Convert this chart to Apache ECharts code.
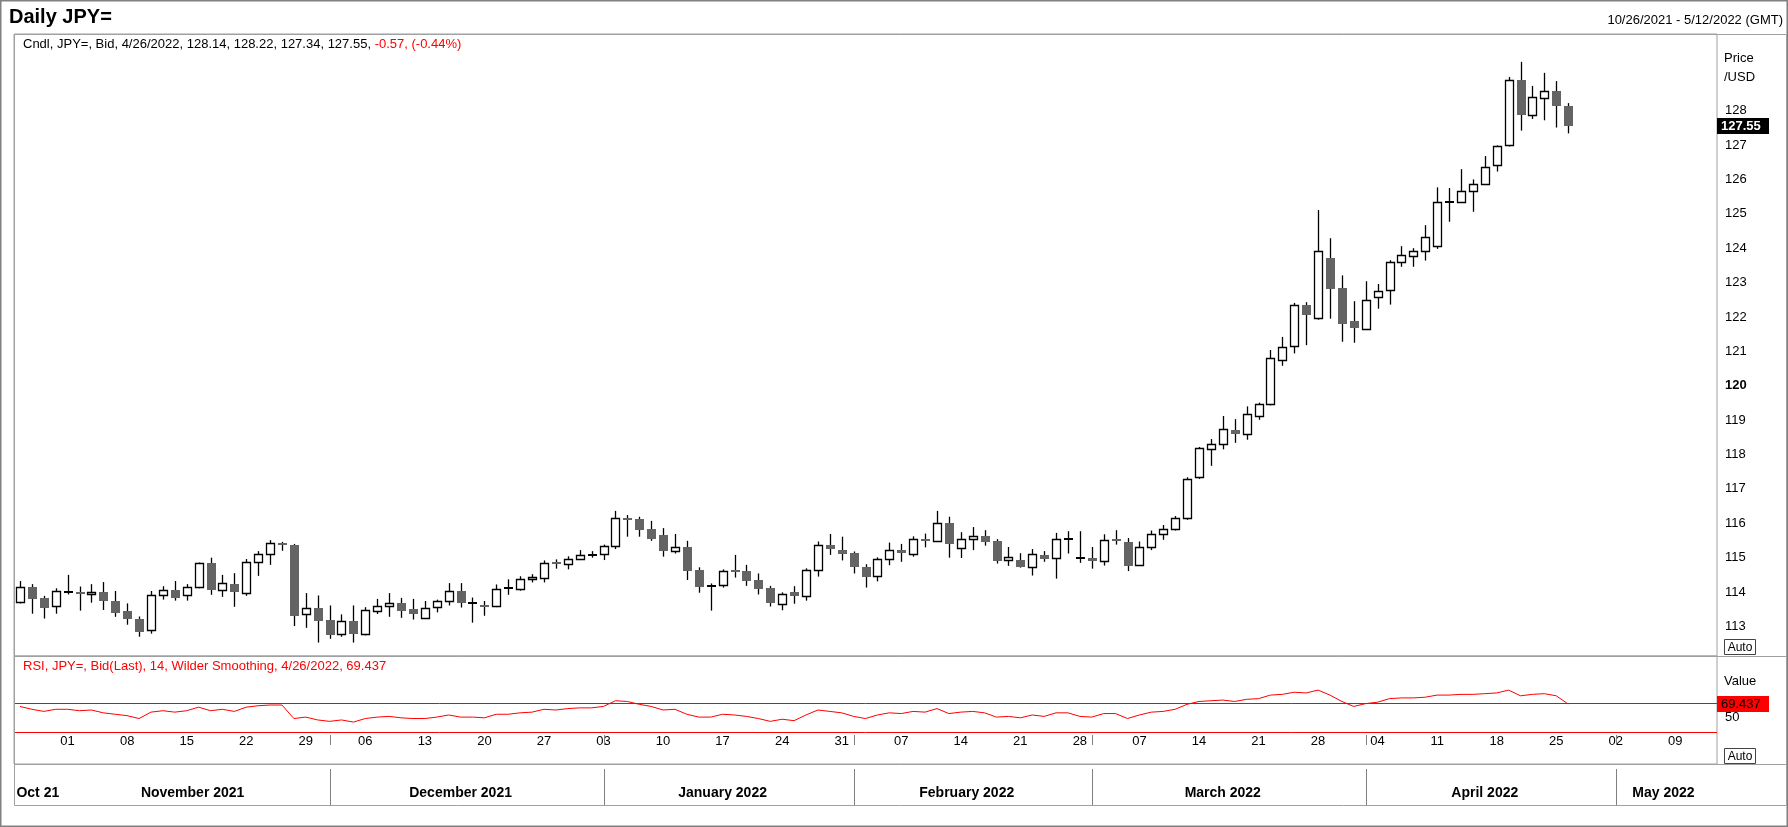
<!DOCTYPE html>
<html>
<head>
<meta charset="utf-8">
<title>Daily JPY=</title>
<script src="https://cdn.jsdelivr.net/npm/echarts@6/dist/echarts.min.js"></script>
<style>
  html, body { margin: 0; padding: 0; background: #fff; }
  #chart { width: 1788px; height: 827px; }
</style>
</head>
<body>
<div id="chart"></div>
<script>
// daily bars, Oct 26 2021 .. Apr 26 2022 (weekdays)
var opens = [
  113.70, 114.15, 113.83, 113.58,
  114.00, 114.00, 113.94, 114.00, 113.74, 113.45, 113.22, 112.89, 113.90, 114.06, 113.90, 114.13, 114.85, 114.05, 114.23,
  113.96, 114.88, 115.10, 115.43, 115.38, 113.35, 113.53,
  113.19, 112.76, 113.15, 112.76, 113.44, 113.58, 113.67, 113.51, 113.26, 113.55, 113.73, 114.03, 113.67, 113.61, 113.58,
  114.11, 114.08, 114.37, 114.39, 114.87, 114.80, 114.95, 115.09,
  115.10, 115.33, 116.14, 116.12, 115.83, 115.66, 115.17, 115.31, 114.64, 114.18, 114.19, 114.65, 114.61, 114.35, 114.12,
  113.64, 114.00, 113.87, 114.63, 115.36, 115.21,
  115.13, 114.73, 114.46, 114.95, 115.22, 115.10, 115.53, 115.49, 116.00, 115.27, 115.53, 115.63, 115.48, 114.92, 114.93,
  114.72, 115.08, 114.98, 115.55, 115.00,
  114.98, 114.89, 115.53, 115.45, 114.77, 115.30, 115.68, 115.82, 116.14, 117.33, 118.15, 118.30, 118.70, 118.58, 119.11,
  119.46, 120.77, 121.14, 122.34, 121.96, 123.71, 122.83, 121.87,
  121.64, 122.60, 122.77, 123.59, 123.76, 123.91, 124.05, 125.33, 125.33, 125.65, 125.86, 126.41, 126.99, 128.88, 127.86,
  128.36, 128.56, 128.14
];
var highs = [
  114.32, 114.23, 113.89, 114.11,
  114.50, 114.16, 114.23, 114.29, 114.03, 113.67, 113.29, 114.03, 114.17, 114.32, 114.23, 114.86, 115.00, 114.50, 114.55,
  114.96, 115.19, 115.51, 115.46, 115.40, 113.97, 113.90,
  113.61, 113.35, 113.61, 113.56, 113.80, 113.97, 113.83, 113.80, 113.74, 113.78, 114.26, 114.26, 113.84, 113.74, 114.22,
  114.37, 114.46, 114.52, 114.92, 114.95, 115.04, 115.22, 115.19,
  115.38, 116.36, 116.24, 116.19, 116.07, 115.86, 115.69, 115.49, 114.72, 114.25, 114.66, 115.08, 114.79, 114.54, 114.18,
  113.99, 114.17, 114.69, 115.47, 115.69, 115.61,
  115.18, 114.81, 115.01, 115.44, 115.40, 115.62, 115.70, 116.36, 116.19, 115.74, 115.89, 115.80, 115.54, 115.31, 115.13,
  115.25, 115.19, 115.72, 115.77, 115.77,
  115.31, 115.68, 115.80, 115.57, 115.47, 115.79, 115.95, 116.21, 117.34, 118.22, 118.45, 119.12, 119.03, 119.40, 119.51,
  121.04, 121.42, 122.41, 122.43, 125.11, 124.29, 123.21, 122.46,
  123.04, 122.96, 123.65, 124.06, 124.00, 124.67, 125.77, 125.75, 126.30, 126.00, 126.68, 126.99, 128.98, 129.42, 128.72,
  129.10, 128.86, 128.22
];
var lows = [
  113.67, 113.37, 113.23, 113.37,
  113.93, 113.46, 113.69, 113.48, 113.28, 113.05, 112.70, 112.79, 113.78, 113.75, 113.75, 114.11, 113.92, 113.86, 113.57,
  113.89, 114.47, 114.79, 115.20, 113.01, 112.96, 112.53,
  112.64, 112.70, 112.53, 112.74, 113.36, 113.28, 113.25, 113.20, 113.24, 113.41, 113.61, 113.55, 113.11, 113.31, 113.56,
  113.92, 114.04, 114.28, 114.28, 114.68, 114.66, 114.93, 115.00,
  114.93, 115.25, 115.61, 115.61, 115.49, 115.03, 115.12, 114.35, 113.98, 113.46, 114.13, 114.42, 114.18, 113.93, 113.58,
  113.47, 113.66, 113.75, 114.45, 115.08, 114.92,
  114.54, 114.13, 114.31, 114.78, 114.88, 115.03, 115.30, 115.47, 115.00, 114.99, 115.22, 115.35, 114.83, 114.76, 114.71,
  114.48, 114.88, 114.39, 115.12, 114.85,
  114.68, 114.77, 115.38, 114.61, 114.76, 115.22, 115.52, 115.79, 116.10, 117.29, 117.67, 118.15, 118.34, 118.43, 119.01,
  119.43, 120.58, 120.94, 121.18, 121.92, 121.95, 121.28, 121.25,
  121.63, 122.24, 122.36, 123.46, 123.46, 123.64, 123.98, 124.77, 125.32, 125.06, 125.85, 126.23, 126.96, 127.42, 127.76,
  127.72, 127.51, 127.34
];
var closes = [
  114.14, 113.81, 113.55, 114.03,
  114.01, 113.97, 114.00, 113.75, 113.40, 113.23, 112.85, 113.90, 114.05, 113.84, 114.14, 114.84, 114.07, 114.25, 113.99,
  114.86, 115.12, 115.42, 115.36, 113.31, 113.53, 113.14,
  112.76, 113.15, 112.78, 113.47, 113.58, 113.67, 113.43, 113.37, 113.55, 113.73, 114.02, 113.69, 113.67, 113.58, 114.08,
  114.11, 114.37, 114.43, 114.84, 114.80, 114.95, 115.07, 115.09,
  115.34, 116.14, 116.10, 115.81, 115.54, 115.19, 115.30, 114.62, 114.16, 114.18, 114.61, 114.59, 114.33, 114.10, 113.69,
  113.93, 113.87, 114.63, 115.36, 115.23, 115.09,
  114.71, 114.45, 114.95, 115.21, 115.12, 115.53, 115.49, 116.00, 115.40, 115.53, 115.62, 115.46, 114.91, 115.01, 114.73,
  115.10, 114.97, 115.53, 115.55, 115.00,
  114.88, 115.50, 115.46, 114.76, 115.30, 115.69, 115.82, 116.14, 117.28, 118.18, 118.30, 118.73, 118.57, 119.17, 119.46,
  120.80, 121.14, 122.34, 122.04, 123.91, 122.82, 121.77, 121.66,
  122.48, 122.77, 123.59, 123.79, 123.91, 124.32, 125.33, 125.33, 125.65, 125.86, 126.35, 126.96, 128.88, 127.85, 128.39,
  128.56, 128.12, 127.55
];
// RSI 14, Wilder smoothing
var rsiValues = [
  66, 62, 59, 62,
  62, 60, 61, 57, 55, 53, 49, 58, 60, 58, 60, 65, 60, 62, 59, 65, 67, 68, 68, 49, 51, 47,
  45, 47, 44, 49, 51, 52, 50, 49, 49, 51, 54, 51, 51, 50, 55, 55, 57, 58, 62, 61, 63, 64, 64,
  66, 74, 73, 69, 66, 61, 62, 55, 51, 51, 55, 54, 52, 49, 45, 48, 46, 54, 61, 59, 57,
  52, 49, 54, 57, 56, 59, 58, 63, 56, 58, 59, 57, 51, 52, 50, 54, 52, 57, 57, 52,
  51, 56, 56, 49, 54, 58, 59, 62, 69, 73, 74, 75, 73, 76, 77, 82, 83, 86, 85, 89, 82, 73, 66,
  70, 72, 77, 78, 78, 79, 82, 82, 83, 83, 84, 85, 89, 81, 83, 84, 81, 69.437
];
var priceTicks = [113, 114, 115, 116, 117, 118, 119, 120, 121, 122, 123, 124, 125, 126, 127, 128];
var rsiTicks = [50, 70];
var rsiLevels = [70, 30];
var monthLabels = ['Oct 21', 'November 2021', 'December 2021', 'January 2022',
  'February 2022', 'March 2022', 'April 2022', 'May 2022'];

var FONT = 'Liberation Sans, Arial, sans-serif';

/* weekday categories up to the end of the visible range */
var dates = [];
var d = new Date(2021, 9, 26);
var endDate = new Date(2022, 4, 12);
while (d <= endDate) {
  if (d.getDay() !== 0 && d.getDay() !== 6) {
    dates.push(new Date(d.getTime()));
  }
  d.setDate(d.getDate() + 1);
}
function pad(n) { return n < 10 ? '0' + n : '' + n; }
var categories = dates.map(function (t) {
  return t.getFullYear() + '-' + pad(t.getMonth() + 1) + '-' + pad(t.getDate());
});

/* month spans (first / last index) */
var months = [];
for (var i = 0; i < dates.length; i++) {
  var key = dates[i].getFullYear() * 12 + dates[i].getMonth();
  if (!months.length || months[months.length - 1].key !== key) {
    months.push({ key: key, first: i, last: i });
  } else {
    months[months.length - 1].last = i;
  }
}

var candleData = [];
for (var j = 0; j < closes.length; j++) {
  candleData.push([j, opens[j], closes[j], lows[j], highs[j]]);
}

function renderCandle(params, api) {
  var idx = api.value(0);
  var o = api.value(1), c = api.value(2), l = api.value(3), h = api.value(4);
  var x = Math.round(api.coord([idx, o])[0]);
  var yO = api.coord([idx, o])[1];
  var yC = api.coord([idx, c])[1];
  var yL = api.coord([idx, l])[1];
  var yH = api.coord([idx, h])[1];
  var half = 4;
  var kids = [{
    type: 'line',
    shape: { x1: x + 0.5, y1: yH, x2: x + 0.5, y2: yL },
    style: { stroke: '#000', lineWidth: 1.3 }
  }];
  var top = Math.min(yO, yC);
  var hgt = Math.abs(yO - yC);
  if (Math.abs(o - c) < 0.02) {
    kids.push({
      type: 'rect',
      shape: { x: x - half, y: Math.round(yC) - 1, width: half * 2 + 1, height: 2 },
      style: { fill: '#000' }
    });
  } else if (c > o) {
    kids.push({
      type: 'rect',
      shape: { x: x - half + 0.5, y: Math.round(top) + 0.5, width: half * 2, height: Math.max(Math.round(hgt), 2) },
      style: { fill: '#fff', stroke: '#000', lineWidth: 1.3 }
    });
  } else {
    kids.push({
      type: 'rect',
      shape: { x: x - half, y: Math.round(top), width: half * 2 + 1, height: Math.max(Math.round(hgt), 2) },
      style: { fill: '#646464' }
    });
  }
  return { type: 'group', children: kids };
}

var option = {
  animation: false,
  backgroundColor: '#fff',
  textStyle: { fontFamily: FONT },
  grid: [
    { left: 14, right: 71, top: 34, height: 622, show: true, borderColor: '#a0a0a0', borderWidth: 1, backgroundColor: '#fff' },
    { left: 14, right: 71, top: 656, height: 108, show: true, borderColor: '#a0a0a0', borderWidth: 1, backgroundColor: '#fff' }
  ],
  xAxis: [
    {
      type: 'category', gridIndex: 0, data: categories,
      axisLine: { show: false }, axisTick: { show: false }, axisLabel: { show: false }, splitLine: { show: false }
    },
    {
      type: 'category', gridIndex: 1, data: categories, position: 'bottom', offset: -32,
      axisLine: { show: false }, axisTick: { show: false }, splitLine: { show: false },
      axisLabel: {
        margin: 3,
        color: '#000',
        fontSize: 13,
        fontFamily: FONT,
        hideOverlap: false,
        interval: function (index) { return dates[index].getDay() === 1; },
        formatter: function (value, index) { return pad(dates[index].getDate()); }
      }
    }
  ],
  yAxis: [
    {
      type: 'value', gridIndex: 0, position: 'right', min: 112.14, max: 130.23,
      axisLine: { show: false }, axisTick: { show: false }, splitLine: { show: false },
      axisLabel: {
        customValues: priceTicks,
        margin: 8,
        color: '#000',
        fontSize: 13,
        fontFamily: FONT,
        formatter: function (v) { return v === 120 ? '{b|120}' : String(v); },
        rich: { b: { fontWeight: 'bold', fontSize: 13, fontFamily: FONT, color: '#000' } }
      }
    },
    {
      type: 'value', gridIndex: 1, position: 'right', min: -15, max: 137,
      axisLine: { show: false }, axisTick: { show: false }, splitLine: { show: false },
      axisLabel: { customValues: rsiTicks, margin: 8, color: '#000', fontSize: 13, fontFamily: FONT }
    }
  ],
  series: [
    {
      name: 'JPY=',
      type: 'custom',
      xAxisIndex: 0,
      yAxisIndex: 0,
      renderItem: renderCandle,
      data: candleData,
      clip: true,
      encode: { x: 0, y: [1, 2, 3, 4] }
    },
    {
      name: 'RSI',
      type: 'line',
      xAxisIndex: 1,
      yAxisIndex: 1,
      data: rsiValues,
      symbol: 'none',
      lineStyle: { color: '#ff0000', width: 1 },
      itemStyle: { color: '#ff0000' },
      markLine: {
        silent: true,
        symbol: 'none',
        label: { show: false },
        lineStyle: { color: '#ff0000', width: 1, type: 'solid' },
        data: rsiLevels.map(function (v) { return { yAxis: v }; })
      }
    }
  ]
};

var chart = echarts.init(document.getElementById('chart'));
chart.setOption(option);

/*----- texts, frame and tags -----*/
var gray = '#a0a0a0';
var graphics = [
  { type: 'rect', z: 50, shape: { x: 0.5, y: 0.5, width: 1787, height: 826 }, style: { fill: null, stroke: '#808080', lineWidth: 2 } },
  { type: 'rect', z: 50, shape: { x: 14.5, y: 34.5, width: 1772, height: 771 }, style: { fill: null, stroke: gray, lineWidth: 1 } },
  { type: 'line', z: 50, shape: { x1: 14, y1: 656.5, x2: 1787, y2: 656.5 }, style: { stroke: gray, lineWidth: 1 } },
  { type: 'line', z: 50, shape: { x1: 14, y1: 764.5, x2: 1787, y2: 764.5 }, style: { stroke: gray, lineWidth: 1 } },
  { type: 'text', z: 60, x: 9, y: 17, style: { text: 'Daily JPY=', font: 'bold 20px ' + FONT, fill: '#000', verticalAlign: 'middle' } },
  { type: 'text', z: 60, x: 1783, y: 20, style: { text: '10/26/2021 - 5/12/2022 (GMT)', font: '13px ' + FONT, fill: '#000', align: 'right', verticalAlign: 'middle' } },
  {
    type: 'text', z: 60, x: 23, y: 44,
    style: {
      text: '{k|Cndl, JPY=, Bid, 4/26/2022, 128.14, 128.22, 127.34, 127.55, }{r|-0.57, (-0.44%)}',
      verticalAlign: 'middle',
      rich: {
        k: { fontSize: 13, fontFamily: FONT, fill: '#000', color: '#000' },
        r: { fontSize: 13, fontFamily: FONT, fill: '#ff0000', color: '#ff0000' }
      }
    }
  },
  { type: 'text', z: 60, x: 23, y: 666, style: { text: 'RSI, JPY=, Bid(Last), 14, Wilder Smoothing, 4/26/2022, 69.437', font: '13px ' + FONT, fill: '#ff0000', verticalAlign: 'middle' } },
  { type: 'text', z: 60, x: 1724, y: 58, style: { text: 'Price', font: '13px ' + FONT, fill: '#000', verticalAlign: 'middle' } },
  { type: 'text', z: 60, x: 1724, y: 77, style: { text: '/USD', font: '13px ' + FONT, fill: '#000', verticalAlign: 'middle' } },
  { type: 'text', z: 60, x: 1724, y: 681, style: { text: 'Value', font: '13px ' + FONT, fill: '#000', verticalAlign: 'middle' } },
  { type: 'rect', z: 60, shape: { x: 1724.5, y: 639.5, width: 31, height: 15 }, style: { fill: '#fff', stroke: '#444', lineWidth: 1 } },
  { type: 'text', z: 61, x: 1740, y: 647.5, style: { text: 'Auto', font: '12px ' + FONT, fill: '#000', align: 'center', verticalAlign: 'middle' } },
  { type: 'rect', z: 60, shape: { x: 1724.5, y: 748.5, width: 31, height: 15 }, style: { fill: '#fff', stroke: '#444', lineWidth: 1 } },
  { type: 'text', z: 61, x: 1740, y: 756.5, style: { text: 'Auto', font: '12px ' + FONT, fill: '#000', align: 'center', verticalAlign: 'middle' } }
];

// last price tag
var lastClose = closes[closes.length - 1];
var yLast = chart.convertToPixel({ yAxisIndex: 0 }, lastClose);
graphics.push({ type: 'rect', z: 70, shape: { x: 1717, y: Math.round(yLast) - 8, width: 52, height: 16 }, style: { fill: '#000' } });
graphics.push({ type: 'text', z: 71, x: 1721, y: Math.round(yLast), style: { text: lastClose.toFixed(2), font: 'bold 13px ' + FONT, fill: '#fff', verticalAlign: 'middle' } });

// last RSI tag
var lastRsi = rsiValues[rsiValues.length - 1];
var yRsi = chart.convertToPixel({ yAxisIndex: 1 }, lastRsi);
graphics.push({ type: 'rect', z: 70, shape: { x: 1717, y: Math.round(yRsi) - 8, width: 52, height: 16 }, style: { fill: '#ff0000' } });
graphics.push({ type: 'text', z: 71, x: 1721, y: Math.round(yRsi), style: { text: String(lastRsi), font: '13px ' + FONT, fill: '#000', verticalAlign: 'middle' } });

// month names and separators
months.forEach(function (m, k) {
  var xa = chart.convertToPixel({ xAxisIndex: 1 }, m.first);
  var xb = chart.convertToPixel({ xAxisIndex: 1 }, m.last);
  graphics.push({
    type: 'text', z: 60, x: (xa + xb) / 2, y: 793,
    style: { text: monthLabels[k], font: 'bold 14px ' + FONT, fill: '#000', align: 'center', verticalAlign: 'middle' }
  });
  if (k > 1) {
    var xs = Math.round(xa) + 0.5;
    graphics.push({ type: 'line', z: 55, shape: { x1: xs, y1: 769, x2: xs, y2: 805 }, style: { stroke: '#808080', lineWidth: 1 } });
    graphics.push({ type: 'line', z: 55, shape: { x1: xs, y1: 735, x2: xs, y2: 745 }, style: { stroke: '#808080', lineWidth: 1 } });
  }
});

chart.setOption({ graphic: graphics });
</script>
</body>
</html>
